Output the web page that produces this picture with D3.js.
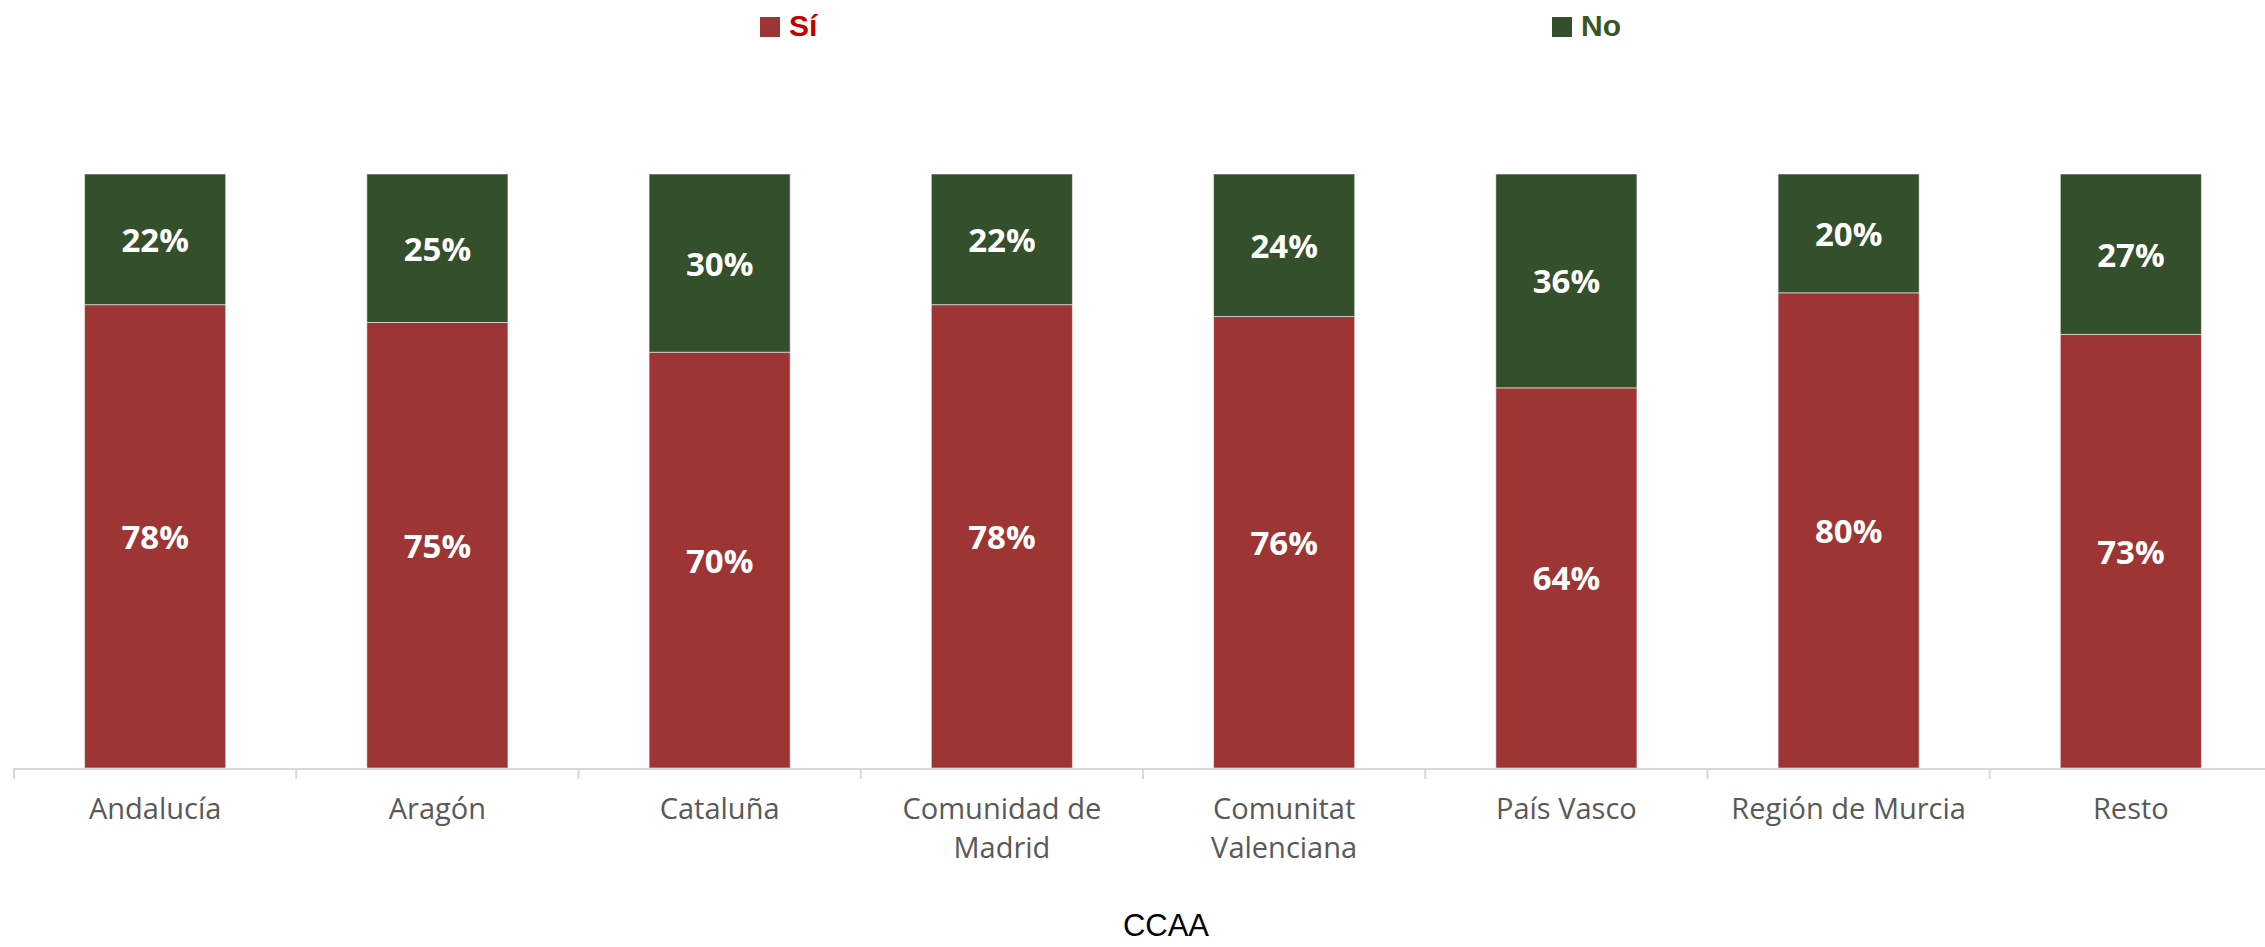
<!DOCTYPE html>
<html>
<head>
<meta charset="utf-8">
<script src="https://cdn.jsdelivr.net/npm/d3@7"></script>
<style>
  body { margin: 0; background: #fff; }
  .cat-label { font-family: "Open Sans", sans-serif; font-size: 29px; fill: #595959; }
  .val-label { font-family: "Open Sans", sans-serif; font-size: 33px; font-weight: 700; fill: #fff; }
  .legend-text { font-family: "Liberation Sans", Arial, sans-serif; font-size: 30px; font-weight: 700; }
  .axis-title { font-family: "Liberation Sans", Arial, sans-serif; font-size: 31px; fill: #000; }
</style>
</head>
<body>
<svg id="chart"></svg>
<script>
// data
const categories = ['Andalucía', 'Aragón', 'Cataluña', 'Comunidad de Madrid',
  'Comunitat Valenciana', 'País Vasco', 'Región de Murcia', 'Resto'];
const tickLabels = [['Andalucía'], ['Aragón'], ['Cataluña'], ['Comunidad de', 'Madrid'],
  ['Comunitat', 'Valenciana'], ['País Vasco'], ['Región de Murcia'], ['Resto']];
const siValues = [0.78, 0.75, 0.70, 0.78, 0.76, 0.64, 0.80, 0.73];
const noValues = [0.22, 0.25, 0.30, 0.22, 0.24, 0.36, 0.20, 0.27];
const seriesNames = ['Sí', 'No'];

const width = 2265, height = 947;
const margin = {top: 174, left: 14, right: -7, bottom: 179};
const colors = {'Sí': '#9D3535', 'No': '#344F2B'};
const legendTextColors = {'Sí': '#C00000', 'No': '#375623'};

const svg = d3.select('#chart')
    .attr('width', width)
    .attr('height', height);

const x = d3.scaleBand()
    .domain(categories)
    .range([margin.left, width - margin.right])
    .paddingInner(0.5)
    .paddingOuter(0.25);

// band scale without padding, used for the axis tick positions
const xTicks = d3.scaleBand()
    .domain(categories)
    .range([margin.left, width - margin.right]);

const y = d3.scaleLinear()
    .domain([0, 1])
    .range([height - margin.bottom, margin.top]);

const rows = categories.map((c, i) => ({cat: c, 'Sí': siValues[i], 'No': noValues[i]}));
const stacked = d3.stack().keys(seriesNames)(rows);

// bars
const layers = svg.selectAll('.layer')
    .data(stacked)
  .join('g')
    .attr('class', 'layer')
    .attr('fill', d => colors[d.key]);

layers.selectAll('rect')
    .data(d => d)
  .join('rect')
    .attr('x', d => x(d.data.cat))
    .attr('width', x.bandwidth())
    .attr('y', d => y(d[1]))
    .attr('height', d => y(d[0]) - y(d[1]))
    .attr('stroke', 'rgba(255,255,255,0.55)')
    .attr('stroke-width', 1);

// value labels
layers.selectAll('text')
    .data(d => d)
  .join('text')
    .attr('class', 'val-label')
    .attr('x', d => x(d.data.cat) + x.bandwidth() / 2)
    .attr('y', d => (y(d[0]) + y(d[1])) / 2)
    .attr('text-anchor', 'middle')
    .attr('dominant-baseline', 'central')
    .text(d => d3.format('.0%')(d[1] - d[0]));

// x axis
const axisY = y(0);
const axisG = svg.append('g');

axisG.append('line')
    .attr('x1', xTicks.range()[0])
    .attr('x2', xTicks.range()[1])
    .attr('y1', axisY + 1)
    .attr('y2', axisY + 1)
    .attr('stroke', '#d9d9d9')
    .attr('stroke-width', 2);

axisG.selectAll('.tick-mark')
    .data(categories)
  .join('line')
    .attr('class', 'tick-mark')
    .attr('x1', d => xTicks(d))
    .attr('x2', d => xTicks(d))
    .attr('y1', axisY)
    .attr('y2', axisY + 11)
    .attr('stroke', '#d9d9d9')
    .attr('stroke-width', 2);

axisG.selectAll('.cat-label')
    .data(categories)
  .join('text')
    .attr('class', 'cat-label')
    .attr('text-anchor', 'middle')
    .attr('x', d => x(d) + x.bandwidth() / 2)
    .attr('y', axisY + 51)
    .each(function(d, i) {
      d3.select(this).selectAll('tspan')
          .data(tickLabels[i])
        .join('tspan')
          .attr('x', x(d) + x.bandwidth() / 2)
          .attr('dy', (t, j) => j === 0 ? 0 : 39)
          .text(t => t);
    });

svg.append('text')
    .attr('class', 'axis-title')
    .attr('x', 1166)
    .attr('y', 936)
    .attr('text-anchor', 'middle')
    .text('CCAA');

// legend
const legendX = {'Sí': 760, 'No': 1552};
const legend = svg.selectAll('.legend')
    .data(seriesNames)
  .join('g')
    .attr('class', 'legend')
    .attr('transform', d => `translate(${legendX[d]},17)`);

legend.append('rect')
    .attr('width', 20)
    .attr('height', 20)
    .attr('fill', d => colors[d]);

legend.append('text')
    .attr('class', 'legend-text')
    .attr('x', 29)
    .attr('y', 19)
    .attr('fill', d => legendTextColors[d])
    .text(d => d);
</script>
</body>
</html>
